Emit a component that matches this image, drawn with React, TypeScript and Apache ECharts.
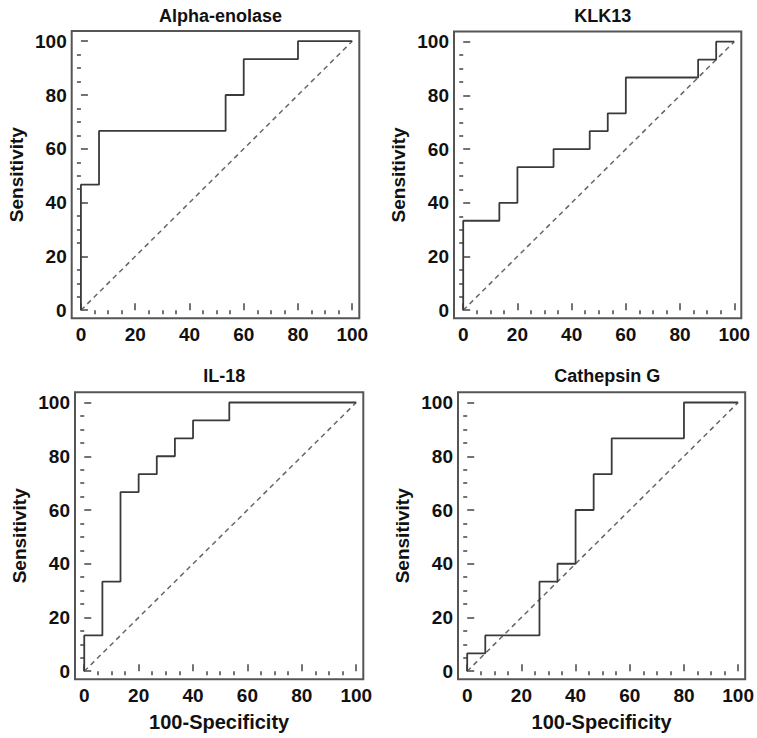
import React, { useEffect, useRef } from "react";
import * as echarts from "echarts";

const panelTitles = ["Alpha-enolase", "KLK13", "IL-18", "Cathepsin G"];

const alphaFpr = [0, 0, 6.67, 53.33, 60, 80, 100];
const alphaSens = [0, 46.67, 66.67, 80, 93.33, 100, 100];

const klkFpr = [0, 0, 13.33, 20, 33.33, 46.67, 53.33, 60, 86.67, 93.33, 100];
const klkSens = [0, 33.33, 40, 53.33, 60, 66.67, 73.33, 86.67, 93.33, 100, 100];

const il18Fpr = [0, 0, 6.67, 13.33, 20, 26.67, 33.33, 40, 53.33, 100];
const il18Sens = [0, 13.33, 33.33, 66.67, 73.33, 80, 86.67, 93.33, 100, 100];

const cathFpr = [0, 0, 6.67, 26.67, 33.33, 40, 46.67, 53.33, 80, 100];
const cathSens = [0, 6.67, 13.33, 33.33, 40, 60, 73.33, 86.67, 100, 100];

const majorTicks = [0, 20, 40, 60, 80, 100];
const minorTicks = [5, 10, 15, 25, 30, 35, 45, 50, 55, 65, 70, 75, 85, 90, 95];
const diagonal = [0, 100];

const xAxisName = "100-Specificity";
const yAxisName = "Sensitivity";

const panelFpr = [alphaFpr, klkFpr, il18Fpr, cathFpr];
const panelSens = [alphaSens, klkSens, il18Sens, cathSens];

const grids = [
  { left: 71.7, top: 31, width: 287.6, height: 287.3 },
  { left: 454, top: 31.5, width: 287.3, height: 286.8 },
  { left: 75, top: 392.3, width: 288.3, height: 287 },
  { left: 458, top: 392.3, width: 288.3, height: 287 },
];

const X_MIN = -3.4;
const X_MAX = 102.6;
const Y_MIN = -3;
const Y_MAX = 103.8;
const FONT = "'Liberation Sans', Arial, sans-serif";
const TEXT = "#111";

export default function App() {
  const ref = useRef<HTMLDivElement>(null);
  useEffect(() => {
    if (!ref.current) return;
    const chart = echarts.init(ref.current, null, { renderer: "svg" });
    const grid: any[] = [];
    const xAxis: any[] = [];
    const yAxis: any[] = [];
    const series: any[] = [];
    const title: any[] = [];
    grids.forEach((g, i) => {
      grid.push({
        ...g,
        show: true,
        borderColor: "#555",
        borderWidth: 2,
        backgroundColor: "transparent",
      });
      title.push({
        text: panelTitles[i],
        left: g.left + g.width / 2,
        top: i >= 2 ? 362 : 2,
        textAlign: "center",
        textStyle: { fontFamily: FONT, fontSize: 18, fontWeight: "bold", color: TEXT },
      });
      const bottomRow = i >= 2;
      xAxis.push({
        type: "value",
        gridIndex: i,
        min: X_MIN,
        max: X_MAX,
        axisLine: { show: false },
        splitLine: { show: false },
        axisTick: {
          show: true,
          inside: true,
          length: 7,
          customValues: majorTicks,
          lineStyle: { color: "#444", width: 1.5 },
        },
        axisLabel: {
          customValues: majorTicks,
          margin: 7,
          fontFamily: FONT,
          fontSize: 19,
          fontWeight: "bold",
          color: TEXT,
        },
        name: bottomRow ? xAxisName : "",
        nameLocation: "middle",
        nameGap: 33,
        nameTextStyle: { fontFamily: FONT, fontSize: 20, fontWeight: "bold", color: TEXT },
      });
      xAxis.push({
        type: "value",
        gridIndex: i,
        min: X_MIN,
        max: X_MAX,
        axisLine: { show: false },
        splitLine: { show: false },
        axisTick: {
          show: true,
          inside: true,
          length: 4,
          customValues: minorTicks,
          lineStyle: { color: "#444", width: 1.5 },
        },
        axisLabel: { show: false },
      });
      yAxis.push({
        type: "value",
        gridIndex: i,
        min: Y_MIN,
        max: Y_MAX,
        axisLine: { show: false },
        splitLine: { show: false },
        axisTick: {
          show: true,
          inside: true,
          length: 7,
          customValues: majorTicks,
          lineStyle: { color: "#444", width: 1.5 },
        },
        axisLabel: {
          customValues: majorTicks,
          margin: 5,
          fontFamily: FONT,
          fontSize: 19,
          fontWeight: "bold",
          color: TEXT,
        },
        name: yAxisName,
        nameLocation: "middle",
        nameGap: 46,
        nameTextStyle: { fontFamily: FONT, fontSize: 19, fontWeight: "bold", color: TEXT },
      });
      yAxis.push({
        type: "value",
        gridIndex: i,
        min: Y_MIN,
        max: Y_MAX,
        axisLine: { show: false },
        splitLine: { show: false },
        axisTick: {
          show: true,
          inside: true,
          length: 4,
          customValues: minorTicks,
          lineStyle: { color: "#444", width: 1.5 },
        },
        axisLabel: { show: false },
      });
      series.push({
        type: "line",
        xAxisIndex: i * 2,
        yAxisIndex: i * 2,
        data: [
          [diagonal[0], diagonal[0]],
          [diagonal[1], diagonal[1]],
        ],
        showSymbol: false,
        symbol: "none",
        silent: true,
        lineStyle: { color: "#666", width: 1.5, type: [5, 4] },
      });
      series.push({
        type: "line",
        xAxisIndex: i * 2,
        yAxisIndex: i * 2,
        step: "end",
        data: panelFpr[i].map((x, k) => [x, panelSens[i][k]]),
        showSymbol: false,
        symbol: "none",
        silent: true,
        lineStyle: { color: "#3a3a3a", width: 1.8 },
      });
    });
    chart.setOption({
      animation: false,
      backgroundColor: "#fff",
      title,
      grid,
      xAxis,
      yAxis,
      series,
    });
    return () => chart.dispose();
  }, []);
  return (
    <div
      ref={ref}
      style={{ position: "absolute", left: 0, top: 0, width: 757, height: 738 }}
    />
  );
}
